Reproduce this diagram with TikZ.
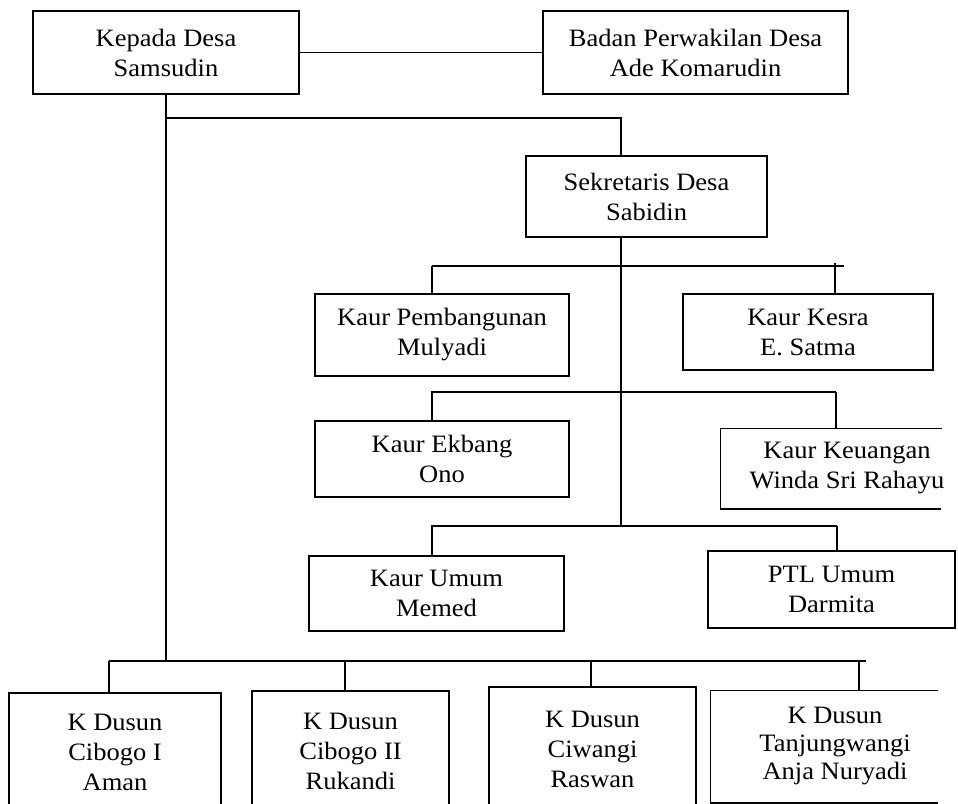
\documentclass[tikz,border=0pt]{standalone}
\usepackage{fontspec}
\setmainfont{Liberation Serif}[FakeStretch=1.06]
\tikzset{
  box/.style={draw, line width=1.5pt, align=center, inner sep=0pt,
    font=\fontsize{25}{30}\selectfont},
  obox/.style={box, draw=none},
  conn/.style={line width=1.5pt},
}
\begin{document}
\begin{tikzpicture}[x=1pt,y=-1pt]
\useasboundingbox (0,0) rectangle (958,803);
\clip (0,0) rectangle (958,803);

% boxes
\node[box, minimum width=266pt, minimum height=83pt] (kepada) at (166,52.5) {Kepada Desa\\Samsudin};
\node[box, minimum width=305pt, minimum height=83pt] (badan) at (695.5,52.5) {Badan Perwakilan Desa\\Ade Komarudin};
\node[box, minimum width=241pt, minimum height=81pt] (sekre) at (646.5,196.5) {Sekretaris Desa\\Sabidin};
\node[box, minimum width=254pt, minimum height=82pt] (pemb) at (442,335) {Kaur Pembangunan\\Mulyadi};
\node[box, minimum width=250pt, minimum height=76pt] (kesra) at (808,332) {Kaur Kesra\\E. Satma};
\node[box, minimum width=254pt, minimum height=76pt] (ekbang) at (442,459) {Kaur Ekbang\\Ono};
\node[obox, minimum width=252pt, minimum height=79pt] (keu) at (847,468.5) {Kaur Keuangan\\Winda Sri Rahayu};
\draw[conn] ([xshift=222pt]keu.north west) -- (keu.north west) -- (keu.south west) -- ++(221,0);
\node[box, minimum width=255pt, minimum height=75pt] (umum) at (436.5,593.5) {Kaur Umum\\Memed};
\node[box, minimum width=247pt, minimum height=77pt] (ptl) at (831.5,589.5) {PTL Umum\\Darmita};

\node[box, minimum width=212pt, minimum height=119pt] (d1) at (115,752.5) {K Dusun\\Cibogo I\\Aman};
\node[box, minimum width=197pt, minimum height=121pt] (d2) at (350.5,751.5) {K Dusun\\Cibogo II\\Rukandi};
\node[box, minimum width=207pt, minimum height=125pt] (d3) at (592.5,749.5) {K Dusun\\Ciwangi\\Raswan};
\node[obox, minimum width=248pt, minimum height=111pt] (d4) at (835,746.5) {K Dusun\\[-2pt]Tanjungwangi\\[-2pt]Anja Nuryadi};
\draw[conn] ([xshift=228pt]d4.north west) -- (d4.north west) -- (d4.south west) -- ++(228,0);

% junction coordinates
\coordinate (t1) at (166,118);
\coordinate (t2) at (621,118);
\coordinate (m3) at (621,526);
\coordinate (b4) at (166,661);
\coordinate (a1) at (432,266);
\coordinate (a1e) at (844,266);
\coordinate (a1r) at (835,263);
\coordinate (a2) at (432,392);
\coordinate (a2r) at (836,392);
\coordinate (a3) at (432,526);
\coordinate (a3r) at (837,526);
\coordinate (q1) at (109,661);
\coordinate (q2) at (345,661);
\coordinate (q3) at (591,661);
\coordinate (q4) at (859,661);
\coordinate (q4e) at (866,661);

% connectors
\draw[conn] (kepada) -- (badan);
\draw[conn] (kepada.south) -- (b4);
\draw[conn] (t1) -- (t2) -- (t2 |- sekre.north);
\draw[conn] (t2 |- sekre.south) -- (m3);

\draw[conn] (a1) -- (a1e);
\draw[conn] (a1) -- (a1 |- pemb.north);
\draw[conn] (a1r) -- (a1r |- kesra.north);

\draw[conn] (a2r) -- (a2) -- (a2 |- ekbang.north);
\draw[conn] (a2r) -- (a2r |- keu.north);

\draw[conn] (a3r) -- (a3) -- (a3 |- umum.north);
\draw[conn] (a3r) -- (a3r |- ptl.north);

\draw[conn] (q1) -- (q4e);
\draw[conn] (q1) -- (q1 |- d1.north);
\draw[conn] (q2) -- (q2 |- d2.north);
\draw[conn] (q3) -- (q3 |- d3.north);
\draw[conn] (q4) -- (q4 |- d4.north);
\end{tikzpicture}
\end{document}
